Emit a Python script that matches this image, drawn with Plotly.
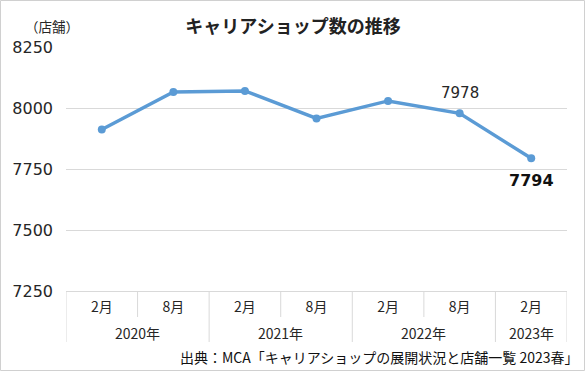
import plotly.graph_objects as go

# ---- data ----
months = ["2月", "8月", "2月", "8月", "2月", "8月", "2月"]
years = ["2020年", "2021年", "2022年", "2023年"]
year_spans = [2, 2, 2, 1]          # number of periods in each year
values = [7912, 8066, 8070, 7957, 8029, 7978, 7794]
y_ticks = [7250, 7500, 7750, 8000, 8250]

title_text = "キャリアショップ数の推移"
unit_text = "（店舗）"
source_text = "出典：MCA「キャリアショップの展開状況と店舗一覧 2023春」"

JP = "Noto Sans CJK JP"
NUM = "DejaVu Sans"
LINE_COLOR = "#5B9BD5"
GRID = "#d9d9d9"

xs = list(range(len(values)))

fig = go.Figure()
fig.add_trace(go.Scatter(
    x=xs, y=values, mode="lines+markers",
    line=dict(color=LINE_COLOR, width=3.5),
    marker=dict(color=LINE_COLOR, size=8),
    hoverinfo="skip", showlegend=False,
))

W, H = 586, 372
L, R, T, B = 66, 19, 47, 81

fig.update_layout(
    width=W, height=H,
    margin=dict(l=L, r=R, t=T, b=B),
    paper_bgcolor="white", plot_bgcolor="white",
    title=dict(text=f"<b>{title_text}</b>", x=0.5, xanchor="center",
               y=(H - 27) / H, yanchor="middle",
               font=dict(family=JP, size=18, color="#222222")),
    xaxis=dict(
        range=[-0.5, len(values) - 0.5], tickvals=xs, ticktext=months,
        showgrid=False, zeroline=False, showline=True, linecolor=GRID, linewidth=1,
        ticks="", tickfont=dict(family=JP, size=14, color="#262626"),
        ticklabelstandoff=3, fixedrange=True,
    ),
    yaxis=dict(
        range=[y_ticks[0], y_ticks[-1]], tickvals=y_ticks,
        showgrid=True, gridcolor=GRID, gridwidth=1, zeroline=False, showline=False,
        ticks="", tickfont=dict(family=NUM, size=16, color="#262626"),
        ticklabelstandoff=12, fixedrange=True,
    ),
)

# category table lines (month separators short, year separators long)
shapes = []
line_specs = [(-0.5, True)]
pos = -0.5
for span in year_spans:
    for k in range(span):
        pos += 1
        line_specs.append((pos, k == span - 1))
for xpos, long_line in line_specs:
    shapes.append(dict(type="line", xref="x", yref="paper", x0=xpos, x1=xpos,
                       ysizemode="pixel", yanchor=0, y0=0,
                       y1=-51 if long_line else -26,
                       line=dict(color=GRID, width=1), layer="above"))
# outer border
pw, ph = W - L - R, H - T - B
shapes.append(dict(type="rect", xref="paper", yref="paper",
                   x0=(0.5 - L) / pw, x1=(W - 1.5 - L) / pw,
                   y0=(H - B - (H - 1.5)) / ph, y1=(H - B - 0.5) / ph,
                   line=dict(color="#d0d0d0", width=1), fillcolor="rgba(0,0,0,0)",
                   layer="above"))
fig.update_layout(shapes=shapes)

annotations = []
# year labels
start = 0
for yr, span in zip(years, year_spans):
    center = start + (span - 1) / 2
    annotations.append(dict(text=yr, x=center, xref="x", y=0, yref="paper",
                            yanchor="middle", yshift=-42, showarrow=False,
                            font=dict(family=JP, size=14, color="#262626")))
    start += span
# data labels
annotations.append(dict(text=str(values[5]), x=xs[5], y=values[5], xref="x", yref="y",
                        yanchor="middle", yshift=20, showarrow=False,
                        font=dict(family=NUM, size=15, color="#262626")))
annotations.append(dict(text=f"<b>{values[6]}</b>", x=xs[6], y=values[6], xref="x", yref="y",
                        yanchor="middle", yshift=-22, showarrow=False,
                        font=dict(family=NUM, size=16, color="#111111")))
# unit label
annotations.append(dict(text=unit_text, x=(52 - L) / pw, xref="paper",
                        y=(H - B - 26) / ph, yref="paper", xanchor="center",
                        yanchor="middle", showarrow=False,
                        font=dict(family=JP, size=13.5, color="#262626")))
# source
annotations.append(dict(text=source_text, x=(580 - L) / pw, xref="paper",
                        y=(H - B - 357) / ph, yref="paper", xanchor="right",
                        yanchor="middle", showarrow=False,
                        font=dict(family=JP, size=14, color="#111111")))
fig.update_layout(annotations=annotations)

fig.write_html(
    "out.html",
    config={"displayModeBar": False},
    post_script="document.body.style.margin='0';document.body.style.padding='0';",
)
